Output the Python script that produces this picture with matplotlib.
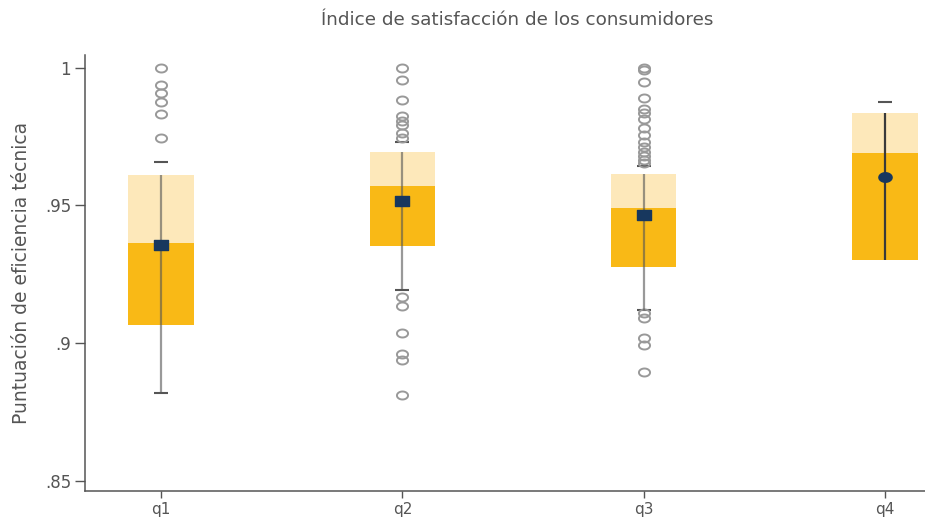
import numpy as np
import matplotlib
matplotlib.use("Agg")
import matplotlib.pyplot as plt
from matplotlib.path import Path

# cuartiles por grupo
grupos = ["q1", "q2", "q3", "q4"]
p25 = [0.9065, 0.9353, 0.9278, 0.9302]
mediana = [0.9364, 0.9571, 0.9491, 0.9692]
p75 = [0.9611, 0.9696, 0.9615, 0.9836]
bigote_inf = [0.8818, 0.9192, 0.9120, 0.9302]
bigote_sup = [0.9659, 0.9730, 0.9645, 0.9876]
media = [0.9356, 0.9516, 0.9465, 0.9602]

# valores atipicos
atipicos = [
    [1.0, 0.9938, 0.9908, 0.9875, 0.9832, 0.9744],
    [1.0, 0.9956, 0.9883, 0.9825, 0.9808, 0.9793, 0.9762, 0.9744,
     0.9166, 0.9135, 0.9038, 0.8960, 0.8938, 0.8811],
    [1.0, 0.9993, 0.9950, 0.9890, 0.9850, 0.9835, 0.9815, 0.9780,
     0.9756, 0.9732, 0.9714, 0.9696, 0.9680, 0.9665, 0.9653,
     0.9108, 0.9090, 0.9017, 0.8993, 0.8893],
    [],
]

oro = "#F9B916"
oro_claro = "#FDE8BA"
azul = "#17375E"
gris = "#555555"

t = np.linspace(0, 2 * np.pi, 40)
elipse = Path(np.column_stack([np.cos(t), 0.72 * np.sin(t)]), closed=True)
rect = Path([(-1, -0.72), (1, -0.72), (1, 0.72), (-1, 0.72), (-1, -0.72)], closed=True)

fig = plt.figure(figsize=(9.25, 5.18), dpi=100)
ax = fig.add_axes([85 / 925, 27 / 518, 840 / 925, 436 / 518])

x = np.arange(len(grupos))
ancho = 0.27
ax.bar(x, np.array(mediana) - np.array(p25), bottom=p25, width=ancho,
       color=oro, zorder=2)
ax.bar(x, np.array(p75) - np.array(mediana), bottom=mediana, width=ancho,
       color=oro_claro, zorder=2)

for i in x:
    a = 0.6 if i < 3 else 1.0
    c = "#555555" if i < 3 else "#3a3a3a"
    ax.vlines(i, bigote_inf[i], p75[i], color=c, alpha=a, lw=1.6, zorder=3)
    topes = [v for v in (bigote_inf[i], bigote_sup[i]) if v < p25[i] or v > p75[i]]
    ax.hlines(topes, i - 0.029, i + 0.029, color="#555555", lw=1.5, zorder=1)
    if atipicos[i]:
        ax.plot([i] * len(atipicos[i]), atipicos[i], linestyle="none",
                marker=elipse, markersize=8, markerfacecolor="none",
                markeredgecolor="#999999", markeredgewidth=1.4, zorder=2)
    m = rect if i < 3 else elipse
    ax.plot(i, media[i], marker=m, markersize=10 if i < 3 else 9.5,
            color=azul, linestyle="none", zorder=4)

ax.set_xlim(-0.315, 3.166)
ax.set_ylim(0.8462, 1.0047)
ax.set_xticks(x)
ax.set_xticklabels(grupos)
ax.set_yticks([0.85, 0.9, 0.95, 1.0])
ax.set_yticklabels([".85", ".9", ".95", "1"])
ax.tick_params(axis="y", length=7, width=1, color="#555555", labelcolor=gris,
               labelsize=12, pad=3)
ax.tick_params(axis="x", length=5, width=1, color="#555555", labelcolor=gris,
               labelsize=11, pad=3)
for s in ["top", "right"]:
    ax.spines[s].set_visible(False)
for s in ["left", "bottom"]:
    ax.spines[s].set_color("#555555")
    ax.spines[s].set_linewidth(1.1)

ax.set_ylabel("Puntuación de eficiencia técnica", fontsize=13.5, color=gris,
              labelpad=10)
fig.text(517 / 925, 1 - 20 / 518, "Índice de satisfacción de los consumidores",
         ha="center", va="center", fontsize=13.2, color=gris)

fig.savefig("out.png", dpi=100)
